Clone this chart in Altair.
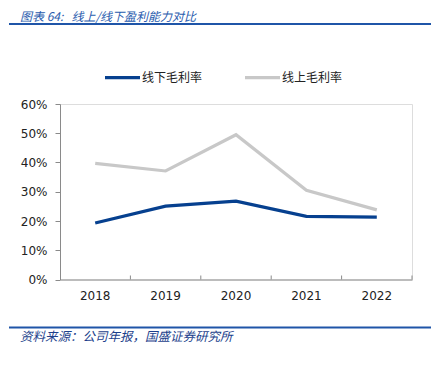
import altair as alt
import pandas as pd

years = ["2018", "2019", "2020", "2021", "2022"]
offline_margin = [0.193, 0.251, 0.268, 0.216, 0.213]
online_margin = [0.397, 0.371, 0.495, 0.305, 0.238]
series_names = ["线下毛利率", "线上毛利率"]
series_colors = ["#06408f", "#c8c8c8"]
title_text = "图表 64:\u00a0\u00a0\u00a0线上/线下盈利能力对比"
source_text = "资料来源：公司年报，国盛证券研究所"

rows = []
for y, v in zip(years, offline_margin):
    rows.append({"year": y, "series": series_names[0], "value": v})
for y, v in zip(years, online_margin):
    rows.append({"year": y, "series": series_names[1], "value": v})
df = pd.DataFrame(rows)

W, H = 352, 175.5
xscale = alt.Scale(type="band", domain=years, paddingInner=0, paddingOuter=0)

lines = alt.Chart(df).mark_line(strokeWidth=3.2).encode(
    x=alt.X("year:N", scale=xscale, bandPosition=0.5,
            axis=alt.Axis(title=None, labelAngle=0, ticks=False, labelPadding=11,
                          labelFont="DejaVu Sans", labelFontSize=12, labelColor="#222",
                          domainColor="#8a8a8a", domainWidth=1)),
    y=alt.Y("value:Q", scale=alt.Scale(domain=[0, 0.6], nice=False),
            axis=alt.Axis(title=None, format=".0%", values=[0, 0.1, 0.2, 0.3, 0.4, 0.5, 0.6],
                          grid=False, tickSize=5, labelPadding=8, tickColor="#8a8a8a",
                          domainColor="#8a8a8a", labelFont="DejaVu Sans", labelFontSize=12,
                          labelColor="#222")),
    color=alt.Color("series:N", scale=alt.Scale(domain=series_names, range=series_colors),
                    sort=series_names,
                    legend=alt.Legend(title=None, orient="none", legendX=43, legendY=-46,
                                      direction="horizontal", symbolType="stroke",
                                      symbolStrokeWidth=3.2, symbolSize=1225, labelOffset=0,
                                      columnPadding=35, labelFont="Noto Sans CJK SC",
                                      labelFontSize=12, labelColor="#222")),
)

tick_df = pd.DataFrame({"year": years[1:]})
ticks = alt.Chart(tick_df).mark_rule(color="#8a8a8a", strokeWidth=1).encode(
    x=alt.X("year:N", scale=xscale, bandPosition=0),
    y=alt.value(H - 4), y2=alt.value(H),
)
end_tick = alt.Chart(pd.DataFrame({"year": [years[-1]]})).mark_rule(color="#8a8a8a", strokeWidth=1).encode(
    x=alt.X("year:N", scale=xscale, bandPosition=1),
    y=alt.value(H - 4), y2=alt.value(H),
)

one = alt.Data(values=[{"a": 1}])
top_rule = alt.Chart(one).mark_rule(color="#1f55a8", strokeWidth=2).encode(
    x=alt.value(-51), x2=alt.value(371), y=alt.value(-80))
bottom_rule = alt.Chart(one).mark_rule(color="#1f55a8", strokeWidth=2).encode(
    x=alt.value(-51), x2=alt.value(371), y=alt.value(223.5))
title = alt.Chart(one).mark_text(text=title_text, align="left", baseline="middle",
                                 font="Noto Sans CJK SC", fontSize=12, fontStyle="italic",
                                 color="#2a5cae").encode(x=alt.value(-40), y=alt.value(-87))
source = alt.Chart(one).mark_text(text=source_text, align="left", baseline="middle",
                                  font="Noto Sans CJK SC", fontSize=12.5, fontStyle="italic",
                                  color="#1c3f8c").encode(x=alt.value(-40), y=alt.value(233))

chart = alt.layer(lines, ticks, end_tick, top_rule, bottom_rule, title, source).properties(
    width=W, height=H,
    autosize=alt.AutoSizeParams(type="none"),
    padding={"left": 52, "top": 96, "right": 22, "bottom": 79},
).configure_view(stroke=None).configure(background="white")

chart.save("out.html", embed_options={"renderer": "svg", "actions": False})
